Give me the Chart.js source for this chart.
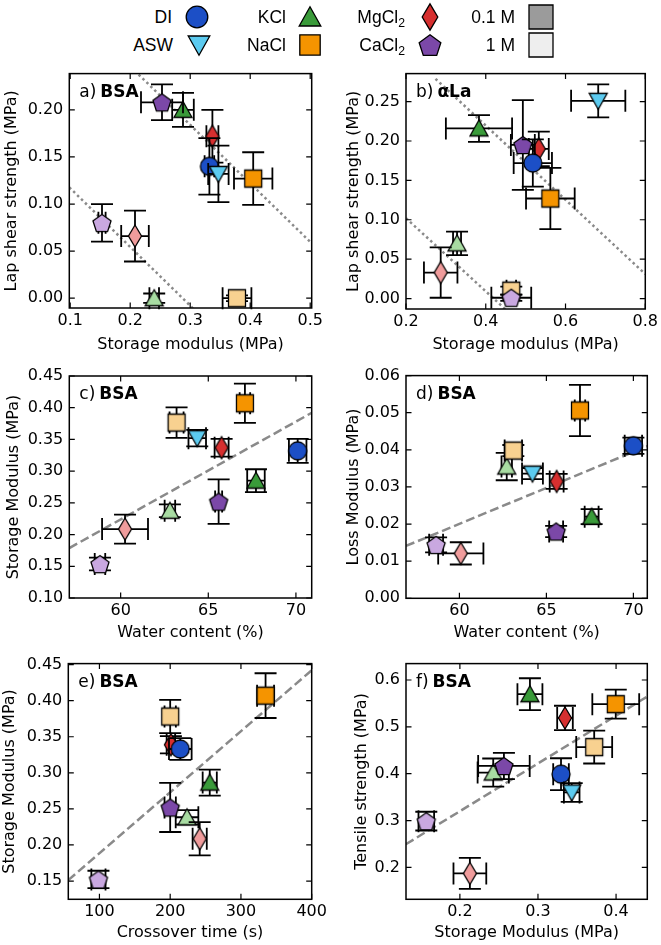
<!DOCTYPE html>
<html lang="en">
<head>
<meta charset="UTF-8" />
<title>Adhesive panels</title>
<script src="https://cdn.jsdelivr.net/npm/chart.js"></script>
<style>
  body { margin: 0; background: #fff; }
  #page { position: relative; width: 661px; height: 945px; overflow: hidden; }
  #page canvas { position: absolute; }
  .lt { position: absolute; text-align: right; font: 17.5px "Liberation Sans", Arial, sans-serif; line-height: 20px; color: #000; }
  .lt sub { font-size: 70%; vertical-align: -4px; line-height: 0; }
</style>
</head>
<body>
<div id="page">
  <canvas id="pa"></canvas>
  <canvas id="pb"></canvas>
  <canvas id="pc"></canvas>
  <canvas id="pd"></canvas>
  <canvas id="pe"></canvas>
  <canvas id="pf"></canvas>
</div>
<script>
// groups, same order in every array below
const groups = ['DI', 'ASW', 'KCl 0.1 M', 'KCl 1 M', 'NaCl 0.1 M', 'NaCl 1 M',
                'MgCl2 0.1 M', 'MgCl2 1 M', 'CaCl2 0.1 M', 'CaCl2 1 M'];

// a) BSA: storage modulus vs lap shear strength
const aX    = [0.332, 0.347, 0.288, 0.240, 0.405, 0.378, 0.337, 0.208, 0.253, 0.153];
const aY    = [0.140, 0.132, 0.200, 0.000, 0.127, 0.000, 0.172, 0.066, 0.208, 0.080];
const aXerr = [0.008, 0.017, 0.018, 0.008, 0.032, 0.024, 0.010, 0.023, 0.035, 0.006];
const aYerr = [0.030, 0.030, 0.018, 0.005, 0.028, 0.003, 0.028, 0.027, 0.019, 0.020];
const aFit1X = [0.214, 0.502], aFit1Y = [0.2375, 0.0586];
const aFit2X = [0.0985, 0.3045], aFit2Y = [0.1177, -0.0107];
const aTicksX = ['0.1', '0.2', '0.3', '0.4', '0.5'];
const aTicksY = ['0.00', '0.05', '0.10', '0.15', '0.20'];

// b) aLa: storage modulus vs lap shear strength
const bX    = [0.518, 0.682, 0.383, 0.328, 0.562, 0.464, 0.533, 0.287, 0.493, 0.464];
const bY    = [0.172, 0.251, 0.216, 0.070, 0.127, 0.010, 0.190, 0.033, 0.195, 0.001];
const bXerr = [0.048, 0.068, 0.083, 0.010, 0.061, 0.012, 0.025, 0.042, 0.030, 0.050];
const bYerr = [0.030, 0.021, 0.017, 0.015, 0.039, 0.005, 0.022, 0.032, 0.057, 0.004];
const bFit1X = [0.274, 0.8], bFit1Y = [0.279, 0.031];
const bFit2X = [0.2, 0.449], bFit2Y = [0.102, -0.0136];
const bTicksX = ['0.2', '0.4', '0.6', '0.8'];
const bTicksY = ['0.00', '0.05', '0.10', '0.15', '0.20', '0.25'];

// c) water content vs storage modulus
const cX    = [70.1, 64.37, 67.72, 62.81, 67.09, 63.19, 65.76, 60.25, 65.59, 58.82];
const cY    = [0.332, 0.352, 0.285, 0.2375, 0.407, 0.3765, 0.337, 0.2086, 0.252, 0.1535];
const cXerr = [0.5, 0.5, 0.5, 0.3, 0.3, 0.4, 0.4, 1.31, 0.2, 0.3];
const cYerr = [0.019, 0.013, 0.018, 0.010, 0.031, 0.024, 0.014, 0.023, 0.035, 0.010];
const cFitX = [57.07, 70.9], cFitY = [0.1787, 0.392];
const cTicksX = ['60', '65', '70'];
const cTicksY = ['0.10', '0.15', '0.20', '0.25', '0.30', '0.35', '0.40', '0.45'];

// d) water content vs loss modulus
const dX    = [70.0, 64.2, 67.6, 62.72, 66.93, 63.1, 65.59, 60.08, 65.56, 58.66];
const dY    = [0.0411, 0.0336, 0.0220, 0.0355, 0.0506, 0.0398, 0.0315, 0.0121, 0.0180, 0.0144];
const dXerr = [0.5, 0.6, 0.4, 0.3, 0.3, 0.5, 0.4, 1.3, 0.4, 0.4];
const dYerr = [0.0022, 0.0015, 0.0020, 0.0037, 0.0069, 0.0015, 0.0020, 0.0030, 0.0015, 0.0020];
const dFitX = [56.93, 70.8], dFitY = [0.0141, 0.0410];
const dTicksX = ['60', '65', '70'];
const dTicksY = ['0.00', '0.01', '0.02', '0.03', '0.04', '0.05', '0.06'];

// e) crossover time vs storage modulus (no ASW)
const eX    = [214.3, null, 255.9, 223.8, 334.8, 200, 201, 241.7, 200, 98.6];
const eY    = [0.333, null, 0.2865, 0.2384, 0.407, 0.378, 0.339, 0.2086, 0.252, 0.1523];
const eXerr = [16, null, 10, 16, 12, 8, 6, 10, 8, 10];
const eYerr = [0.015, null, 0.018, 0.010, 0.031, 0.023, 0.012, 0.023, 0.034, 0.012];
const eFitX = [56, 400], eFitY = [0.1513, 0.4422];
const eTicksX = ['100', '200', '300', '400'];
const eTicksY = ['0.15', '0.20', '0.25', '0.30', '0.35', '0.40', '0.45'];

// f) storage modulus vs tensile strength
const fX    = [0.3295, 0.3432, 0.2897, 0.2427, 0.3996, 0.372, 0.3346, 0.2128, 0.2564, 0.157];
const fY    = [0.399, 0.360, 0.5697, 0.4025, 0.5485, 0.4568, 0.519, 0.1873, 0.4166, 0.2988];
const fXerr = [0.010, 0.010, 0.016, 0.020, 0.030, 0.023, 0.010, 0.021, 0.033, 0.010];
const fYerr = [0.034, 0.020, 0.034, 0.030, 0.031, 0.035, 0.026, 0.033, 0.028, 0.020];
const fFitX = [0.1308, 0.44], fFitY = [0.2494, 0.5647];
const fTicksX = ['0.2', '0.3', '0.4'];
const fTicksY = ['0.2', '0.3', '0.4', '0.5', '0.6'];

// look of each group
const groupShape = ['circle', 'triDown', 'triUp', 'triUp', 'square', 'square',
                    'diamond', 'diamond', 'pentagon', 'pentagon'];
const groupColor = ['#1c4fc6', '#5ccbf0', '#3a9b3a', '#a8dca2', '#f59400', '#f8d190',
                    '#d62f2f', '#f09c9c', '#7b48a8', '#c9a8e0'];
// drawing order: light ones first, DI and ASW last (on top)
const drawSeq = [3, 5, 7, 9, 2, 4, 6, 8, 0, 1];

const FONT = 'DejaVu Sans';
const GREY = '#8a8a8a';

function makeMarker(shape, fill, k) {
  k = k || 1;
  const c = document.createElement('canvas');
  const n = Math.ceil(30 * k);
  c.width = n; c.height = n;
  const g = c.getContext('2d');
  const cx = n / 2, cy = n / 2;
  g.beginPath();
  if (shape === 'circle') {
    g.arc(cx, cy, 9 * k, 0, Math.PI * 2);
  } else if (shape === 'triUp') {
    g.moveTo(cx, cy - 8.5 * k); g.lineTo(cx + 9 * k, cy + 7.5 * k); g.lineTo(cx - 9 * k, cy + 7.5 * k);
    g.closePath();
  } else if (shape === 'triDown') {
    g.moveTo(cx, cy + 8.5 * k); g.lineTo(cx + 9 * k, cy - 7.5 * k); g.lineTo(cx - 9 * k, cy - 7.5 * k);
    g.closePath();
  } else if (shape === 'square') {
    g.rect(cx - 8.5 * k, cy - 8.5 * k, 17 * k, 17 * k);
  } else if (shape === 'bigsquare') {
    g.rect(cx - 12 * k, cy - 12 * k, 24 * k, 24 * k);
  } else if (shape === 'diamond') {
    g.moveTo(cx, cy - 11 * k); g.lineTo(cx + 6.5 * k, cy); g.lineTo(cx, cy + 11 * k); g.lineTo(cx - 6.5 * k, cy);
    g.closePath();
  } else if (shape === 'pentagon') {
    for (let i = 0; i < 5; i++) {
      const a = -Math.PI / 2 + i * 2 * Math.PI / 5;
      const px = cx + 9.5 * k * Math.cos(a), py = cy + 1 * k + 9.5 * k * Math.sin(a);
      if (i === 0) g.moveTo(px, py); else g.lineTo(px, py);
    }
    g.closePath();
  }
  g.fillStyle = fill;
  g.fill();
  g.lineWidth = 1.3;
  g.strokeStyle = '#000';
  g.stroke();
  return c;
}

const markers = groups.map((g, i) => makeMarker(groupShape[i], groupColor[i], 1));

// legend above the panels
const legendItems = [
  { html: 'DI', right: 172, cy: 17, cx: 197, shape: 'circle', color: groupColor[0] },
  { html: 'ASW', right: 173, cy: 45, cx: 199, shape: 'triDown', color: groupColor[1] },
  { html: 'KCl', right: 286, cy: 17, cx: 310, shape: 'triUp', color: groupColor[2] },
  { html: 'NaCl', right: 286, cy: 45, cx: 310, shape: 'square', color: groupColor[4] },
  { html: 'MgCl<sub>2</sub>', right: 405, cy: 17, cx: 430, shape: 'diamond', color: groupColor[6] },
  { html: 'CaCl<sub>2</sub>', right: 405, cy: 45, cx: 430, shape: 'pentagon', color: groupColor[8] },
  { html: '0.1 M', right: 515, cy: 17, cx: 541, shape: 'bigsquare', color: '#9b9b9b', k: 1 },
  { html: '1 M', right: 515, cy: 45, cx: 541, shape: 'bigsquare', color: '#eeeeee', k: 1 }
];
const page = document.getElementById('page');
legendItems.forEach(it => {
  const t = document.createElement('div');
  t.className = 'lt';
  t.innerHTML = it.html;
  t.style.left = '0px';
  t.style.width = it.right + 'px';
  t.style.top = (it.cy - 10) + 'px';
  page.appendChild(t);
  const m = makeMarker(it.shape, it.color, it.k || 1.2);
  m.style.left = (it.cx - m.width / 2) + 'px';
  m.style.top = (it.cy - m.height / 2) + 'px';
  page.appendChild(m);
});

function decor(p) {
  return {
    id: 'decor',
    beforeDatasetDraw(chart, args) {
      const ds = chart.data.datasets[args.index];
      if (ds.xErr == null) return;
      const ctx = chart.ctx, xs = chart.scales.x, ys = chart.scales.y;
      const pt = ds.data[0];
      const px = xs.getPixelForValue(pt.x), py = ys.getPixelForValue(pt.y);
      const x0 = xs.getPixelForValue(pt.x - ds.xErr), x1 = xs.getPixelForValue(pt.x + ds.xErr);
      const y0 = ys.getPixelForValue(pt.y - ds.yErr), y1 = ys.getPixelForValue(pt.y + ds.yErr);
      const cap = 11;
      ctx.save();
      ctx.strokeStyle = '#000';
      ctx.lineWidth = 1.8;
      ctx.beginPath();
      ctx.moveTo(x0, py); ctx.lineTo(x1, py);
      ctx.moveTo(px, y0); ctx.lineTo(px, y1);
      ctx.moveTo(x0, py - cap); ctx.lineTo(x0, py + cap);
      ctx.moveTo(x1, py - cap); ctx.lineTo(x1, py + cap);
      ctx.moveTo(px - cap, y0); ctx.lineTo(px + cap, y0);
      ctx.moveTo(px - cap, y1); ctx.lineTo(px + cap, y1);
      ctx.stroke();
      ctx.restore();
    },
    afterDatasetsDraw(chart) {
      const ctx = chart.ctx, a = chart.chartArea;
      const xs = chart.scales.x, ys = chart.scales.y;
      const tl = 5.5;
      ctx.save();
      ctx.strokeStyle = '#000';
      ctx.lineWidth = 1.2;
      ctx.beginPath();
      xs.ticks.forEach(t => {
        const x = xs.getPixelForValue(t.value);
        ctx.moveTo(x, a.bottom); ctx.lineTo(x, a.bottom - tl);
        ctx.moveTo(x, a.top); ctx.lineTo(x, a.top + tl);
      });
      ys.ticks.forEach(t => {
        const y = ys.getPixelForValue(t.value);
        ctx.moveTo(a.left, y); ctx.lineTo(a.left + tl, y);
        ctx.moveTo(a.right, y); ctx.lineTo(a.right - tl, y);
      });
      ctx.stroke();
      ctx.lineWidth = 1.5;
      ctx.strokeRect(a.left, a.top, a.right - a.left, a.bottom - a.top);
      ctx.restore();
    },
    afterDraw(chart) {
      const ctx = chart.ctx, a = chart.chartArea;
      ctx.save();
      ctx.fillStyle = '#000';
      ctx.textBaseline = 'middle';
      ctx.font = '17px "' + FONT + '"';
      const x = a.left + 10, y = a.top + 19;
      ctx.fillText(p.tag, x, y);
      const w = ctx.measureText(p.tag).width;
      ctx.font = 'bold 17px "' + FONT + '"';
      ctx.fillText(p.name, x + w + 4, y);
      ctx.restore();
    }
  };
}

function buildPanel(p) {
  const cv = document.getElementById(p.id);
  const [bl, bt, bw, bh] = p.box;
  cv.width = bw; cv.height = bh;
  cv.style.left = bl + 'px'; cv.style.top = bt + 'px';
  const wy = p.area[0] - bl;
  const hx = bt + bh - p.area[3];
  const font = { family: FONT, size: 16 };

  const datasets = [];
  p.fits.forEach(f => {
    datasets.push({
      type: 'line',
      data: f.xs.map((x, i) => ({ x: x, y: f.ys[i] })),
      borderColor: GREY, borderWidth: 2.5, borderDash: f.dash,
      pointRadius: 0, fill: false, order: 100
    });
  });
  drawSeq.forEach((g, k) => {
    if (p.xs[g] == null) return;
    datasets.push({
      type: 'scatter',
      label: groups[g],
      data: [{ x: p.xs[g], y: p.ys[g] }],
      xErr: p.xe[g], yErr: p.ye[g],
      pointStyle: markers[g], pointRadius: 10, hoverRadius: 10,
      order: 50 - k, clip: false
    });
  });

  new Chart(cv, {
    type: 'scatter',
    data: { datasets: datasets },
    options: {
      responsive: false,
      animation: false,
      devicePixelRatio: 1,
      events: [],
      layout: { padding: { left: 0, top: p.area[1] - bt, right: bl + bw - p.area[2], bottom: 0 } },
      plugins: { legend: { display: false }, tooltip: { enabled: false } },
      scales: {
        x: {
          type: 'linear', min: p.xr[0], max: p.xr[1],
          afterBuildTicks: s => { s.ticks = p.xt.map(t => ({ value: Number(t) })); },
          afterFit: s => { s.height = hx; },
          grid: { display: false, drawTicks: false },
          border: { display: false },
          ticks: { font: font, color: '#000', padding: 3, autoSkip: false, maxRotation: 0,
                   callback: (v, i) => p.xt[i] },
          title: { display: true, text: p.xTitle, font: font, color: '#000',
                   padding: { top: 0, bottom: p.xtp } }
        },
        y: {
          type: 'linear', min: p.yr[0], max: p.yr[1],
          afterBuildTicks: s => { s.ticks = p.yt.map(t => ({ value: Number(t) })); },
          afterFit: s => { s.width = wy; },
          grid: { display: false, drawTicks: false },
          border: { display: false },
          ticks: { font: font, color: '#000', padding: 6, autoSkip: false,
                   callback: (v, i) => p.yt[i] },
          title: { display: true, text: p.yTitle, font: font, color: '#000',
                   padding: { top: p.ytp, bottom: 0 } }
        }
      }
    },
    plugins: [decor(p)]
  });
}

const dotted = [2.5, 3];
const dashed = [9, 4];

const panels = [
  { id: 'pa', box: [0, 58, 330, 300], area: [69.3, 69.3, 311.7, 308], tag: 'a)', name: 'BSA',
    xs: aX, ys: aY, xe: aXerr, ye: aYerr, xr: [0.0985, 0.5025], yr: [-0.0104, 0.2385],
    xt: aTicksX, yt: aTicksY, xTitle: 'Storage modulus (MPa)', yTitle: 'Lap shear strength (MPa)',
    xtp: 3.4, ytp: 2.4,
    fits: [{ xs: aFit1X, ys: aFit1Y, dash: dotted }, { xs: aFit2X, ys: aFit2Y, dash: dotted }] },
  { id: 'pb', box: [330, 58, 331, 300], area: [406, 68.3, 648, 309], tag: 'b)', name: '\u03b1La',
    xs: bX, ys: bY, xe: bXerr, ye: bYerr, xr: [0.2, 0.8], yr: [-0.0133, 0.2856],
    xt: bTicksX, yt: bTicksY, xTitle: 'Storage modulus (MPa)', yTitle: 'Lap shear strength (MPa)',
    xtp: 3.4, ytp: 14.4,
    fits: [{ xs: bFit1X, ys: bFit1Y, dash: dotted }, { xs: bFit2X, ys: bFit2Y, dash: dotted }] },
  { id: 'pc', box: [0, 360, 330, 285], area: [69.3, 376, 311.7, 598], tag: 'c)', name: 'BSA',
    xs: cX, ys: cY, xe: cXerr, ye: cYerr, xr: [57.07, 70.9], yr: [0.10, 0.45],
    xt: cTicksX, yt: cTicksY, xTitle: 'Water content (%)', yTitle: 'Storage Modulus (MPa)',
    xtp: 2.7, ytp: 4.4,
    fits: [{ xs: cFitX, ys: cFitY, dash: dashed }] },
  { id: 'pd', box: [330, 360, 331, 285], area: [406, 373.3, 647.3, 598.3], tag: 'd)', name: 'BSA',
    xs: dX, ys: dY, xe: dXerr, ye: dYerr, xr: [56.93, 70.8], yr: [0, 0.06],
    xt: dTicksX, yt: dTicksY, xTitle: 'Water content (%)', yTitle: 'Loss Modulus (MPa)',
    xtp: 2.1, ytp: 14.4,
    fits: [{ xs: dFitX, ys: dFitY, dash: dashed }] },
  { id: 'pe', box: [0, 648, 330, 297], area: [68.3, 661.7, 311.7, 899.3], tag: 'e)', name: 'BSA',
    xs: eX, ys: eY, xe: eXerr, ye: eYerr, xr: [56, 400], yr: [0.1247, 0.4514],
    xt: eTicksX, yt: eTicksY, xTitle: 'Crossover time (s)', yTitle: 'Storage Modulus (MPa)',
    xtp: 2.1, ytp: 0.4,
    fits: [{ xs: eFitX, ys: eFitY, dash: dashed }] },
  { id: 'pf', box: [330, 648, 331, 297], area: [406, 661.7, 647.3, 899.3], tag: 'f)', name: 'BSA',
    xs: fX, ys: fY, xe: fXerr, ye: fYerr, xr: [0.131, 0.44], yr: [0.132, 0.635],
    xt: fTicksX, yt: fTicksY, xTitle: 'Storage Modulus (MPa)', yTitle: 'Tensile strength (MPa)',
    xtp: 2.1, ytp: 22.4,
    fits: [{ xs: fFitX, ys: fFitY, dash: dashed }] }
];

panels.forEach(buildPanel);
</script>
</body>
</html>
